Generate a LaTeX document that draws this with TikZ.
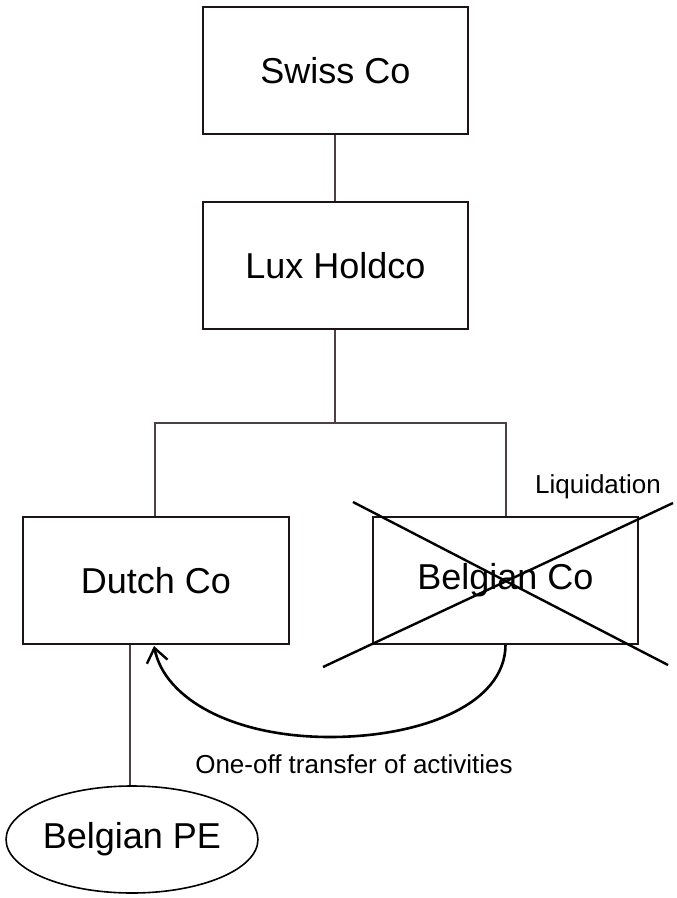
\documentclass[tikz,border=0pt]{standalone}
\usepackage{fontspec}
\setmainfont{Liberation Sans}
\usetikzlibrary{arrows.meta,shapes.geometric}
\definecolor{boxline}{HTML}{1E1416}
\definecolor{linkline}{HTML}{4E4042}
\begin{document}
\begin{tikzpicture}[x=1pt,y=-1pt,
  entity/.style={draw=boxline,line width=2.2pt,rectangle,minimum width=265pt,minimum height=127pt,inner sep=0pt,font=\fontsize{36}{40}\selectfont},
  pe/.style={draw=black,line width=1.6pt,ellipse,minimum width=250pt,minimum height=107pt,inner sep=0pt,font=\fontsize{36}{40}\selectfont},
  link/.style={draw=linkline,line width=2pt},
  note/.style={font=\fontsize{26}{30}\selectfont,anchor=base,inner sep=0pt},
  cross/.style={draw=black,line width=2.4pt},
  move/.style={draw=black,line width=2.6pt,-{Straight Barb[length=14pt,width=21pt,line width=2.4pt]}}]
\useasboundingbox (0,0) rectangle (677,898);

% companies
\node[entity] (swiss) at (335.5,70.5) {Swiss Co};
\node[entity] (lux) at (335.5,265.5) {Lux Holdco};
\node[entity,minimum width=266pt] (dutch) at (156,580.5) {Dutch Co};
\node[entity] (belgian) at (505.5,580.5) {Belgian Co};
\node[pe] (bpe) at (132,839.5) {Belgian PE};

% ownership lines
\coordinate (split) at (335,423);
\draw[link] (swiss.south -| split) -- (lux.north -| split);
\draw[link] (lux.south -| split) -- (split);
\draw[link] (split) -| (dutch.north -| 155,0);
\draw[link] (split) -| (belgian.north);
\draw[link] (dutch.south -| 130,0) -- (bpe.north -| 130,0);

% liquidation cross over Belgian Co
\draw[cross] (353,502) -- (668,665);
\draw[cross] (323,667) -- (673,503);
\node[note] (liq) at (598,493) {Liquidation};

% transfer of activities
\draw[move] (belgian.south) .. controls (505,705) and (420,737) .. (330,737)
  .. controls (235,737) and (165,700) .. (154,646);
\node[note] (transfer) at (354,773) {One-off transfer of activities};
\end{tikzpicture}
\end{document}
